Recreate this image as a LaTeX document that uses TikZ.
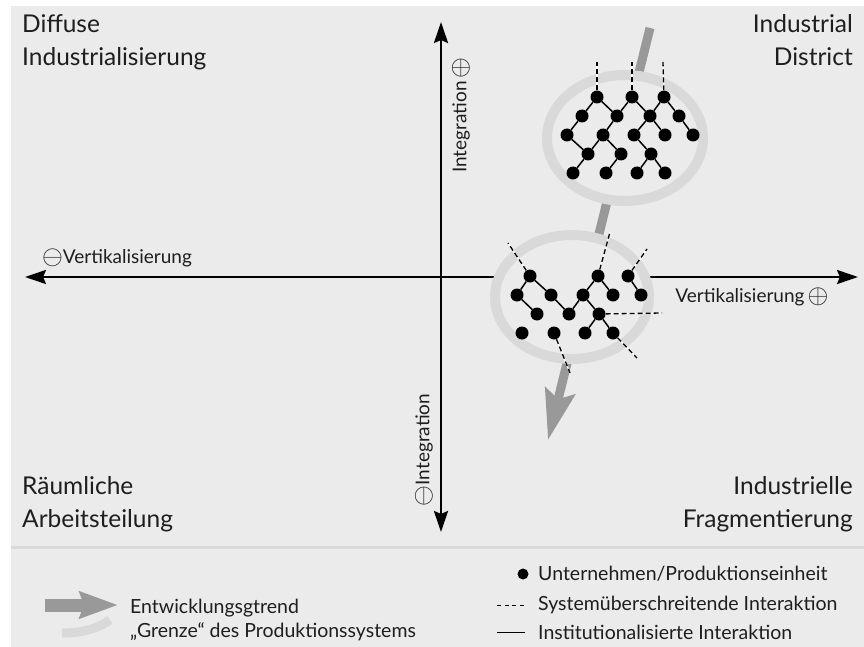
\documentclass[tikz,border=0pt]{standalone}
\usepackage{fontspec}
\setmainfont{Lato}
\usetikzlibrary{arrows.meta}
\definecolor{panel}{HTML}{EBEBEB}
\definecolor{ringgray}{HTML}{D9D9D9}
\definecolor{trendgray}{HTML}{999999}
\definecolor{ink}{HTML}{1E1E1E}
\newcommand{\bigplus}{\raisebox{-0.15ex}{\scalebox{1.55}{$\oplus$}}}
\newcommand{\bigminus}{\raisebox{-0.15ex}{\scalebox{1.55}{$\ominus$}}}
\begin{document}
\begin{tikzpicture}[x=1pt,y=-1pt,
		every node/.style={text=ink,inner sep=0pt},
		dot/.style={circle,fill=black,minimum size=13pt},
		link/.style={line width=1.5pt},
		cross/.style={line width=1.3pt,dash pattern=on 5pt off 3pt},
		ring/.style={draw=ringgray,fill=panel,line width=10pt},
		axis/.style={line width=2.5pt,{Stealth[length=21pt,width=14pt,inset=3pt]}-{Stealth[length=21pt,width=14pt,inset=3pt]}},
		trend/.style={draw=trendgray,line width=9pt,-{Stealth[length=50pt,width=30pt,inset=8pt]}},
		quad/.style={font=\fontsize{24.5}{33}\selectfont},
		axlabel/.style={font=\fontsize{19}{22}\selectfont},
		legend/.style={font=\fontsize{19.5}{22}\selectfont,anchor=west}]
\useasboundingbox (0,0) rectangle (864,647);
\fill[white] (0,0) rectangle (864,647);
\fill[panel] (11,6) rectangle (864,647);
\draw[ringgray,line width=3pt] (11,547) -- (864,547);
% axes
\coordinate (ytop) at (441,22);
\coordinate (ybot) at (441,532);
\coordinate (xl) at (25,277);
\coordinate (xr) at (858,277);
\draw[axis] (ybot) -- (ytop);
\draw[axis] (xl) -- (xr);
% trend
\coordinate (trendtop) at (650,28);
\coordinate (trendtip) at (548,440);
\draw[trend] (trendtop) -- (trendtip);
% system borders
\draw[ring] (625,138) ellipse [x radius=78pt, y radius=63pt];
\draw[ring] (572,297) ellipse [x radius=77pt, y radius=62pt];
% industrial district
\node[dot] (a1) at (597,97) {};
\node[dot] (a2) at (632,97) {};
\node[dot] (a3) at (664,97) {};
\node[dot] (b1) at (582,116) {};
\node[dot] (b2) at (617,116) {};
\node[dot] (b3) at (650,116) {};
\node[dot] (b4) at (679,116) {};
\node[dot] (c1) at (567,135) {};
\node[dot] (c2) at (603,135) {};
\node[dot] (c3) at (634,135) {};
\node[dot] (c4) at (665,135) {};
\node[dot] (c5) at (693,135) {};
\node[dot] (d1) at (588,154) {};
\node[dot] (d2) at (621,154) {};
\node[dot] (d3) at (651,154) {};
\node[dot] (e1) at (573,173) {};
\node[dot] (e2) at (606,173) {};
\node[dot] (e3) at (637,173) {};
\node[dot] (e4) at (665,173) {};
\foreach \s/\t in {a1/b1,a1/b2,a2/b2,a2/b3,a3/b3,a3/b4,b1/c1,b2/c2,b3/c3,b3/c4,b4/c5,
		c1/d1,c2/d1,c2/d2,c3/d3,d1/e1,d2/e2,d3/e3,d3/e4}
	\draw[link] (\s) -- (\t);
\coordinate (ta1) at (597,62);
\coordinate (ta2) at (632,62);
\coordinate (ta3) at (663,62);
% fragmentation
\node[dot] (f1) at (530,276) {};
\node[dot] (f2) at (598,276) {};
\node[dot] (f3) at (628,276) {};
\node[dot] (g1) at (517,295) {};
\node[dot] (g2) at (551,295) {};
\node[dot] (g3) at (583,295) {};
\node[dot] (g4) at (613,295) {};
\node[dot] (g5) at (641,295) {};
\node[dot] (h1) at (537,314) {};
\node[dot] (h2) at (569,314) {};
\node[dot] (h3) at (599,314) {};
\node[dot] (k1) at (522,333) {};
\node[dot] (k2) at (554,333) {};
\node[dot] (k3) at (585,333) {};
\node[dot] (k4) at (613,333) {};
\foreach \s/\t in {f1/g1,f1/g2,g1/h1,g2/h2,h2/g3,g3/f2,f2/g4,g3/h3,h3/k3,h3/k4,f3/g5}
	\draw[link] (\s) -- (\t);
\coordinate (tf1) at (508,243);
\coordinate (tf2) at (610,232);
\coordinate (tf3) at (647,249);
\coordinate (th3) at (662,313);
\coordinate (tk4) at (637,358);
\coordinate (tk2) at (570,373);
\foreach \s/\t in {a1/ta1,a2/ta2,a3/ta3,f1/tf1,f2/tf2,f3/tf3,h3/th3,k4/tk4,k2/tk2}{
	\draw[white,line width=1.3pt] (\s) -- (\t);
	\draw[cross] (\s) -- (\t);
}
% quadrant labels
\node[quad,anchor=north west,align=left] (nw) at (22,14) {Diffuse\\Industrialisierung};
\node[quad,anchor=north east,align=right] (ne) at (853,14) {Industrial\\District};
\node[quad,anchor=north west,align=left] (sw) at (22,476) {Räumliche\\Arbeitsteilung};
\node[quad,anchor=north east,align=right] (se) at (853,476) {Industrielle\\Fragmentierung};
% axis labels
\node[axlabel,rotate=90] (intplus) at (461,115) {Integration\,\bigplus};
\node[axlabel,rotate=90] (intminus) at (424,450) {\bigminus Integration};
\node[axlabel] (vertminus) at (117,258) {\bigminus Vertikalisierung};
\node[axlabel] (vertplus) at (752,297) {Vertikalisierung\,\bigplus};
% legend
\coordinate (la) at (45,605);
\coordinate (lb) at (118,605);
\draw[draw=trendgray,line width=13pt,-{Stealth[length=38pt,width=26pt,inset=4pt]}] (la) -- (lb);
\coordinate (lc) at (62,633);
\coordinate (ld) at (110,620);
\draw[ringgray,line width=9pt] (lc) .. controls (85,633) and (100,627) .. (ld);
\node[legend] (trendtext) at (130,608) {Entwicklungsgtrend};
\node[legend] (bordertext) at (130,632) {„Grenze“ des Produktionssystems};
\node[dot,minimum size=11pt] (ldot) at (523,574) {};
\node[legend] (dottext) at (538,574) {Unternehmen/Produktionseinheit};
\coordinate (le) at (497,605);
\coordinate (lf) at (525,605);
\draw[line width=1pt,dash pattern=on 4pt off 3.5pt] (le) -- (lf);
\node[legend] (crosstext) at (538,605) {Systemüberschreitende Interaktion};
\coordinate (lg) at (497,632);
\coordinate (lh) at (525,632);
\draw[line width=1pt] (lg) -- (lh);
\node[legend] (linktext) at (538,632) {Institutionalisierte Interaktion};
\end{tikzpicture}
\end{document}
